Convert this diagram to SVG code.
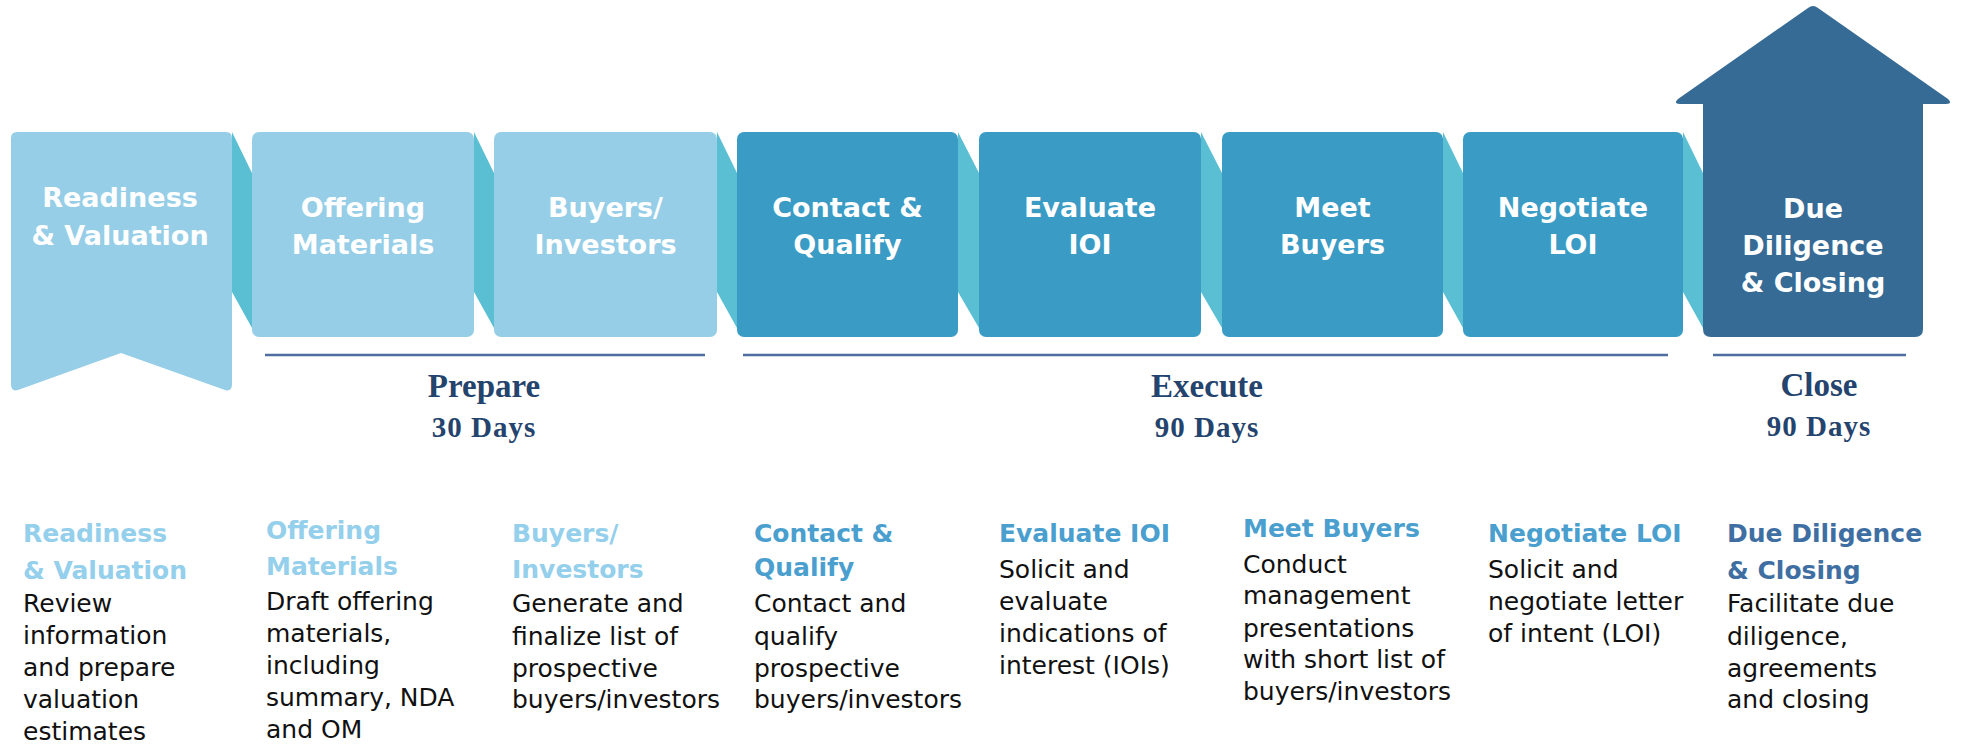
<svg xmlns="http://www.w3.org/2000/svg" width="1967" height="744" viewBox="0 0 1967 744">
<style>
.fold{fill:#5bbfd3}
.light{fill:#97cee7}
.mid{fill:#3a9bc5}
.dark{fill:#366b96}
.t{font-family:"DejaVu Sans",sans-serif;font-weight:bold;font-size:27px;fill:#fff;text-anchor:middle}
.rule{stroke:#4d6e9e;stroke-width:2.5}
.ph{font-family:"Liberation Serif",serif;font-weight:bold;font-size:33px;fill:#24446e;text-anchor:middle}
.pd{font-family:"Liberation Serif",serif;font-weight:bold;font-size:29px;fill:#24446e;text-anchor:middle;letter-spacing:1px}
.h{font-family:"DejaVu Sans",sans-serif;font-weight:bold;font-size:25px}
.hl{fill:#94cfeb}
.hm{fill:#4a9fcf}
.hd{fill:#3f6fa2}
.b{font-family:"DejaVu Sans",sans-serif;font-size:25px;fill:#111}
</style>
<g id="folds">
<polygon class="fold" points="232,132 252,173 252,328 232,292"/>
<polygon class="fold" points="474,132 494,173 494,328 474,292"/>
<polygon class="fold" points="717,132 737,173 737,328 717,292"/>
<polygon class="fold" points="958,132 979,173 979,328 958,292"/>
<polygon class="fold" points="1201,132 1222,173 1222,328 1201,292"/>
<polygon class="fold" points="1443,132 1463,173 1463,328 1443,292"/>
<polygon class="fold" points="1683,132 1703,173 1703,328 1683,292"/>
</g>
<g id="node-readiness">
<path class="light" d="M17,132 L226,132 Q232,132 232,138 L232,384 Q232,392 225,390 L121,353 L18,390 Q11,392 11,384 L11,138 Q11,132 17,132 Z"/>
<text class="t" x="120" y="207">Readiness</text>
<text class="t" x="120" y="245">&amp; Valuation</text>
</g>
<g id="node-offering">
<rect class="light" x="252" y="132" width="222" height="205" rx="7"/>
<text class="t" x="363" y="217">Offering</text>
<text class="t" x="363" y="254">Materials</text>
</g>
<g id="node-buyers">
<rect class="light" x="494" y="132" width="223" height="205" rx="7"/>
<text class="t" x="605.5" y="217">Buyers/</text>
<text class="t" x="605.5" y="254">Investors</text>
</g>
<g id="node-contact">
<rect class="mid" x="737" y="132" width="221" height="205" rx="7"/>
<text class="t" x="847.5" y="217">Contact &amp;</text>
<text class="t" x="847.5" y="254">Qualify</text>
</g>
<g id="node-evaluate">
<rect class="mid" x="979" y="132" width="222" height="205" rx="7"/>
<text class="t" x="1090" y="217">Evaluate</text>
<text class="t" x="1090" y="254">IOI</text>
</g>
<g id="node-meet">
<rect class="mid" x="1222" y="132" width="221" height="205" rx="7"/>
<text class="t" x="1332.5" y="217">Meet</text>
<text class="t" x="1332.5" y="254">Buyers</text>
</g>
<g id="node-negotiate">
<rect class="mid" x="1463" y="132" width="220" height="205" rx="7"/>
<text class="t" x="1573" y="217">Negotiate</text>
<text class="t" x="1573" y="254">LOI</text>
</g>
<g id="node-closing">
<path class="dark" d="M1711,337 Q1703,337 1703,329 L1703,104 L1680,104 Q1673,104 1678,99 L1808,8 Q1813,4 1818,8 L1948,99 Q1953,104 1946,104 L1923,104 L1923,329 Q1923,337 1915,337 Z"/>
<text class="t" x="1813" y="218">Due</text>
<text class="t" x="1813" y="255">Diligence</text>
<text class="t" x="1813" y="292">&amp; Closing</text>
</g>
<g id="phases">
<line class="rule" x1="265" y1="355" x2="705" y2="355"/>
<line class="rule" x1="743" y1="355" x2="1668" y2="355"/>
<line class="rule" x1="1713" y1="355" x2="1906" y2="355"/>
<text class="ph" x="484" y="397">Prepare</text>
<text class="pd" x="484" y="437">30 Days</text>
<text class="ph" x="1207" y="397">Execute</text>
<text class="pd" x="1207" y="437">90 Days</text>
<text class="ph" x="1819" y="396">Close</text>
<text class="pd" x="1819" y="436">90 Days</text>
</g>
<g id="desc-readiness">
<text class="h hl" x="23" y="542">Readiness</text>
<text class="h hl" x="23" y="579">&amp; Valuation</text>
<text class="b" x="23" y="612">Review</text>
<text class="b" x="23" y="644">information</text>
<text class="b" x="23" y="676">and prepare</text>
<text class="b" x="23" y="708">valuation</text>
<text class="b" x="23" y="740">estimates</text>
</g>
<g id="desc-offering">
<text class="h hl" x="266" y="539">Offering</text>
<text class="h hl" x="266" y="575">Materials</text>
<text class="b" x="266" y="610">Draft offering</text>
<text class="b" x="266" y="642">materials,</text>
<text class="b" x="266" y="674">including</text>
<text class="b" x="266" y="706">summary, NDA</text>
<text class="b" x="266" y="738">and OM</text>
</g>
<g id="desc-buyers">
<text class="h hl" x="512" y="542">Buyers/</text>
<text class="h hl" x="512" y="578">Investors</text>
<text class="b" x="512" y="612">Generate and</text>
<text class="b" x="512" y="645">finalize list of</text>
<text class="b" x="512" y="677">prospective</text>
<text class="b" x="512" y="708">buyers/investors</text>
</g>
<g id="desc-contact">
<text class="h hm" x="754" y="542">Contact &amp;</text>
<text class="h hm" x="754" y="576">Qualify</text>
<text class="b" x="754" y="612">Contact and</text>
<text class="b" x="754" y="645">qualify</text>
<text class="b" x="754" y="677">prospective</text>
<text class="b" x="754" y="708">buyers/investors</text>
</g>
<g id="desc-evaluate">
<text class="h hm" x="999" y="542">Evaluate IOI</text>
<text class="b" x="999" y="578">Solicit and</text>
<text class="b" x="999" y="610">evaluate</text>
<text class="b" x="999" y="642">indications of</text>
<text class="b" x="999" y="674">interest (IOIs)</text>
</g>
<g id="desc-meet">
<text class="h hm" x="1243" y="537">Meet Buyers</text>
<text class="b" x="1243" y="573">Conduct</text>
<text class="b" x="1243" y="604">management</text>
<text class="b" x="1243" y="637">presentations</text>
<text class="b" x="1243" y="668">with short list of</text>
<text class="b" x="1243" y="700">buyers/investors</text>
</g>
<g id="desc-negotiate">
<text class="h hm" x="1488" y="542">Negotiate LOI</text>
<text class="b" x="1488" y="578">Solicit and</text>
<text class="b" x="1488" y="610">negotiate letter</text>
<text class="b" x="1488" y="642">of intent (LOI)</text>
</g>
<g id="desc-closing">
<text class="h hd" x="1727" y="542">Due Diligence</text>
<text class="h hd" x="1727" y="579">&amp; Closing</text>
<text class="b" x="1727" y="612">Facilitate due</text>
<text class="b" x="1727" y="645">diligence,</text>
<text class="b" x="1727" y="677">agreements</text>
<text class="b" x="1727" y="708">and closing</text>
</g>
</svg>
